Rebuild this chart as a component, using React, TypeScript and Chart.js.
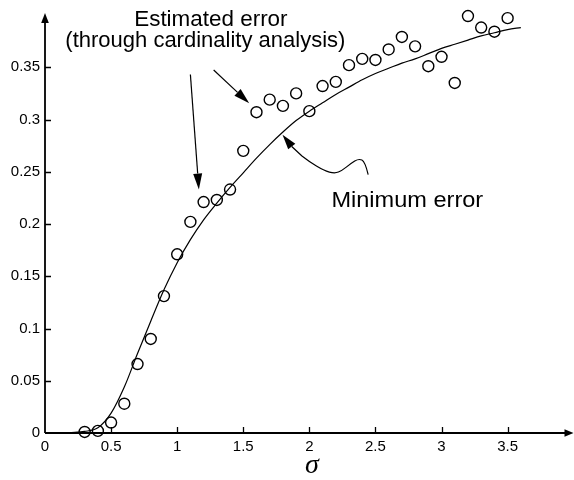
import { useEffect, useRef } from 'react';
import { Chart, registerables } from 'chart.js';

Chart.register(...registerables);

// ---- data ----
const pointX = [0.3, 0.4, 0.5, 0.6, 0.7, 0.8, 0.9, 1.0, 1.1, 1.2, 1.3, 1.4, 1.5, 1.6, 1.7, 1.8, 1.9, 2.0, 2.1, 2.2, 2.3, 2.4, 2.5, 2.6, 2.7, 2.8, 2.9, 3.0, 3.1, 3.2, 3.3, 3.4, 3.5];
const pointY = [0.001, 0.002, 0.010, 0.028, 0.066, 0.090, 0.131, 0.171, 0.202, 0.221, 0.223, 0.233, 0.270, 0.307, 0.319, 0.313, 0.325, 0.308, 0.332, 0.336, 0.352, 0.358, 0.357, 0.367, 0.379, 0.370, 0.351, 0.360, 0.335, 0.399, 0.388, 0.384, 0.397];

const curveX = [0, 0.1, 0.2, 0.3, 0.4, 0.5, 0.6, 0.7, 0.8, 0.9, 1.0, 1.1, 1.2, 1.3, 1.4, 1.5, 1.6, 1.7, 1.8, 1.9, 2.0, 2.1, 2.2, 2.3, 2.4, 2.5, 2.6, 2.7, 2.8, 2.9, 3.0, 3.1, 3.2, 3.3, 3.4, 3.5, 3.6];
const curveY = [0, 0, 0.0005, 0.0015, 0.005, 0.019, 0.044, 0.076, 0.107, 0.137, 0.163, 0.185, 0.204, 0.220, 0.235, 0.249, 0.263, 0.276, 0.288, 0.299, 0.308, 0.316, 0.324, 0.331, 0.338, 0.344, 0.349, 0.354, 0.358, 0.363, 0.368, 0.372, 0.376, 0.380, 0.383, 0.386, 0.388];

const xTickValues = [0, 0.5, 1, 1.5, 2, 2.5, 3, 3.5];
const xTickLabels = ['0', '0.5', '1', '1.5', '2', '2.5', '3', '3.5'];
const yTickValues = [0, 0.05, 0.1, 0.15, 0.2, 0.25, 0.3, 0.35];
const yTickLabels = ['0', '0.05', '0.1', '0.15', '0.2', '0.25', '0.3', '0.35'];

const xAxisTitle = 'σ';
const labelEstimated = 'Estimated error';
const labelEstimated2 = '(through cardinality analysis)';
const labelMinimum = 'Minimum error';

// ---- annotation placement (data coordinates) ----
const textNotes = [
  { text: labelEstimated, x: 1.255, y: 0.389, size: 22, sx: 1.02 },
  { text: labelEstimated2, x: 1.213, y: 0.3697, size: 22, sx: 1.0 },
  { text: labelMinimum, x: 2.741, y: 0.2167, size: 22, sx: 1.07 },
];
const straightArrows = [
  { from: [1.1, 0.343], to: [1.164, 0.233] },
  { from: [1.276, 0.3474], to: [1.545, 0.3155] },
];
const curvedArrow = [
  [2.445, 0.2473], [2.421, 0.2598], [2.374, 0.2626], [2.313, 0.2578], [2.246, 0.2511],
  [2.193, 0.2483], [2.110, 0.2511], [1.997, 0.2598], [1.891, 0.2703], [1.797, 0.2855],
];

const FONT = '"Liberation Sans", Arial, sans-serif';

function arrowHead(ctx: CanvasRenderingContext2D, fx: number, fy: number, tx: number, ty: number, len: number, hw: number) {
  const a = Math.atan2(ty - fy, tx - fx);
  const bx = tx - len * Math.cos(a);
  const by = ty - len * Math.sin(a);
  ctx.beginPath();
  ctx.moveTo(tx, ty);
  ctx.lineTo(bx + hw * Math.sin(a), by - hw * Math.cos(a));
  ctx.lineTo(bx - hw * Math.sin(a), by + hw * Math.cos(a));
  ctx.closePath();
  ctx.fill();
  return [bx, by];
}

const decorations = {
  id: 'decorations',
  afterDraw(chart: any) {
    const { ctx, chartArea } = chart;
    const xs = chart.scales.x;
    const ys = chart.scales.y;
    const px = (v: number) => xs.getPixelForValue(v);
    const py = (v: number) => ys.getPixelForValue(v);
    ctx.save();
    ctx.strokeStyle = '#000';
    ctx.fillStyle = '#000';

    // axes
    ctx.lineWidth = 1.8;
    ctx.beginPath();
    ctx.moveTo(chartArea.left, chartArea.bottom);
    ctx.lineTo(chart.width - 6, chartArea.bottom);
    ctx.moveTo(chartArea.left, chartArea.bottom);
    ctx.lineTo(chartArea.left, chartArea.top + 6);
    ctx.stroke();
    // axis arrowheads
    arrowHead(ctx, chartArea.left, chartArea.bottom, chart.width - 0.5, chartArea.bottom, 9, 3.8);
    arrowHead(ctx, chartArea.left, chartArea.bottom, chartArea.left, chartArea.top - 2, 10, 3.8);

    // inward ticks
    ctx.lineWidth = 1.3;
    ctx.beginPath();
    xTickValues.forEach((v) => {
      if (v === 0) return;
      const x = Math.round(px(v)) + 0.5;
      ctx.moveTo(x, chartArea.bottom);
      ctx.lineTo(x, chartArea.bottom - 6);
    });
    yTickValues.forEach((v) => {
      if (v === 0) return;
      const y = Math.round(py(v)) + 0.5;
      ctx.moveTo(chartArea.left, y);
      ctx.lineTo(chartArea.left + 6, y);
    });
    ctx.stroke();

    // x axis title
    ctx.font = 'italic 28px "Liberation Serif", "DejaVu Serif", serif';
    ctx.textAlign = 'center';
    ctx.textBaseline = 'alphabetic';
    ctx.fillText(xAxisTitle, px(2.02), 473);

    // text notes
    textNotes.forEach((n) => {
      ctx.save();
      ctx.font = `${n.size}px ${FONT}`;
      ctx.textAlign = 'center';
      ctx.textBaseline = 'alphabetic';
      ctx.translate(px(n.x), py(n.y));
      ctx.scale(n.sx, 1);
      ctx.fillText(n.text, 0, 0);
      ctx.restore();
    });

    // straight arrows
    ctx.lineWidth = 1.2;
    straightArrows.forEach((a) => {
      const fx = px(a.from[0]);
      const fy = py(a.from[1]);
      const tx = px(a.to[0]);
      const ty = py(a.to[1]);
      const [bx, by] = arrowHead(ctx, fx, fy, tx, ty, 16, 4.5);
      ctx.beginPath();
      ctx.moveTo(fx, fy);
      ctx.lineTo(bx, by);
      ctx.stroke();
    });

    // curved arrow
    const pts = curvedArrow.map((p) => [px(p[0]), py(p[1])]);
    const n = pts.length;
    const tip = pts[n - 1];
    const prev = pts[n - 2];
    const [bx, by] = arrowHead(ctx, prev[0], prev[1], tip[0], tip[1], 15, 4.5);
    ctx.beginPath();
    ctx.moveTo(pts[0][0], pts[0][1]);
    for (let i = 1; i < n - 2; i++) {
      const mx = (pts[i][0] + pts[i + 1][0]) / 2;
      const my = (pts[i][1] + pts[i + 1][1]) / 2;
      ctx.quadraticCurveTo(pts[i][0], pts[i][1], mx, my);
    }
    ctx.lineTo(bx, by);
    ctx.stroke();

    ctx.restore();
  },
};

export default function App() {
  const canvasRef = useRef<HTMLCanvasElement | null>(null);

  useEffect(() => {
    const canvas = canvasRef.current;
    if (!canvas) return;
    Chart.defaults.font.family = FONT;
    Chart.defaults.color = '#000';

    const curveData = curveX.map((x, i) => ({ x, y: curveY[i] }));
    const pointData = pointX.map((x, i) => ({ x, y: pointY[i] }));

    const labelFor = (values: number[], labels: string[]) => (value: any) => {
      const i = values.findIndex((t) => Math.abs(t - Number(value)) < 1e-9);
      return i >= 0 ? labels[i] : '';
    };

    const chart = new Chart(canvas, {
      type: 'scatter',
      data: {
        datasets: [
          {
            label: 'Minimum error',
            data: curveData,
            showLine: true,
            borderColor: '#000',
            borderWidth: 1.2,
            pointRadius: 0,
            cubicInterpolationMode: 'monotone',
            clip: false,
          } as any,
          {
            label: 'Estimated error',
            data: pointData,
            showLine: false,
            pointRadius: 5.5,
            pointBorderWidth: 1.4,
            pointBorderColor: '#000',
            pointBackgroundColor: 'rgba(255,255,255,0)',
            clip: false,
          } as any,
        ],
      },
      options: {
        responsive: false,
        animation: false,
        events: [],
        layout: { padding: { top: 15, right: 5, left: 0, bottom: 0 } },
        plugins: { legend: { display: false }, tooltip: { enabled: false } },
        scales: {
          x: {
            type: 'linear',
            min: 0,
            max: 3.95,
            afterFit: (s: any) => { s.height = 47; },
            afterBuildTicks: (s: any) => { s.ticks = xTickValues.map((v) => ({ value: v })); },
            ticks: {
              callback: labelFor(xTickValues, xTickLabels),
              padding: 5,
              font: { size: 15, family: FONT },
              color: '#000',
              maxRotation: 0,
              autoSkip: false,
            },
            grid: { display: false, drawTicks: false },
            border: { display: false },
          },
          y: {
            type: 'linear',
            min: 0,
            max: 0.4,
            afterFit: (s: any) => { s.width = 45; },
            afterBuildTicks: (s: any) => { s.ticks = yTickValues.map((v) => ({ value: v })); },
            ticks: {
              callback: labelFor(yTickValues, yTickLabels),
              padding: 5,
              font: { size: 15, family: FONT },
              color: '#000',
              autoSkip: false,
            },
            grid: { display: false, drawTicks: false },
            border: { display: false },
          },
        },
      } as any,
      plugins: [decorations],
    });
    return () => chart.destroy();
  }, []);

  return (
    <div style={{ position: 'fixed', left: 0, top: 0, width: 574, height: 480, background: '#fff' }}>
      <canvas ref={canvasRef} width={574} height={480} style={{ display: 'block' }} />
    </div>
  );
}
